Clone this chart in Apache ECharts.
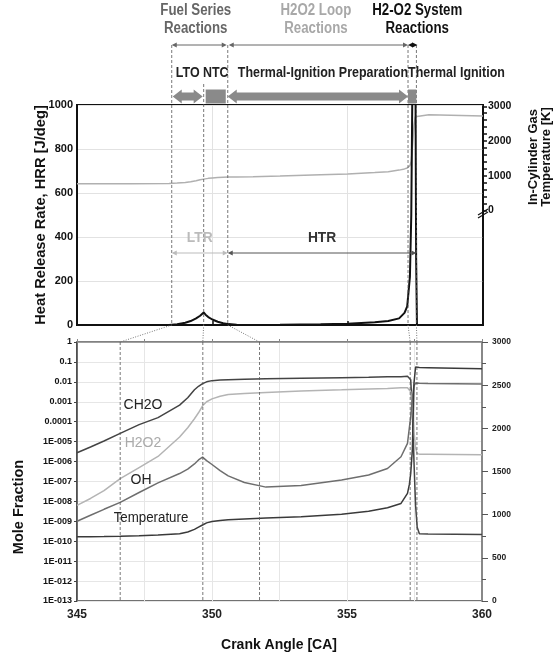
<!DOCTYPE html>
<html>
<head>
<meta charset="utf-8">
<script src="https://cdn.jsdelivr.net/npm/echarts@6/dist/echarts.min.js"></script>
<style>
  html, body { margin: 0; background: #fff; }
  #chart { width: 560px; height: 656px; }
</style>
</head>
<body>
<div id="chart"></div>
<script>
// ---- top panel: heat release rate + in-cylinder temperature ----
const topAngle = [345, 347, 348.4, 348.7, 349, 349.2, 349.4, 349.55, 349.68, 349.75, 349.85, 350, 350.2, 350.4,
  350.6, 350.9, 351.5, 352.5, 354, 355, 356, 356.5, 356.9, 357.1, 357.2, 357.3, 357.35, 357.4, 357.45, 357.5,
  357.53, 357.56, 358, 360]
const hrr = [0, 0, 0, 3, 10, 18, 30, 42, 57, 47, 36, 25, 15, 8,
  4, 1.5, 0.5, 1, 3, 6, 12, 18, 30, 55, 85, 220, 500, 1200, 1400, 1300,
  300, 0, 0, 0]
const tempTop = [768, 770, 775, 785, 805, 825, 855, 880, 900, 910, 922, 935, 945, 952,
  958, 963, 972, 990, 1025, 1050, 1090, 1115, 1160, 1195, 1220, 1290, 1420, 1900, 2450, 2700,
  2745, 2755, 2755, 2720]

// ---- bottom panel: mole fractions + temperature ----
const botAngle = [345, 345.5, 346, 346.6, 347.3, 348, 348.8, 349.1, 349.35, 349.5, 349.65, 349.8, 350, 350.3,
  350.6, 351.2, 352, 353.3, 354.8, 355.8, 356.5, 357, 357.24, 357.31, 357.36, 357.42, 357.48, 357.54,
  357.6, 357.68, 358, 360]
const ch2o = [2.75e-6, 5.4e-6, 1.07e-5, 2.6e-5, 7.1e-5, 1.6e-4, 6.8e-4, 1.6e-3, 4.0e-3, 6.0e-3, 8.1e-3, 1.0e-2, 1.15e-2, 1.23e-2,
  1.29e-2, 1.35e-2, 1.41e-2, 1.51e-2, 1.62e-2, 1.7e-2, 1.78e-2, 1.82e-2, 1.9e-2, 1.86e-2, 1.26e-2, 3.2e-4, 1e-6, 6.3e-9,
  5e-10, 2.4e-10, 2.3e-10, 2.15e-10]
const h2o2 = [6.3e-9, 1.4e-8, 3.5e-8, 1.4e-7, 5e-7, 1.8e-6, 1.7e-5, 5e-5, 1.4e-4, 2.8e-4, 6.3e-4, 1e-3, 1.4e-3, 1.9e-3,
  2.3e-3, 2.6e-3, 2.95e-3, 3.5e-3, 4.0e-3, 4.4e-3, 4.7e-3, 5.0e-3, 5.0e-3, 4.5e-3, 3.2e-3, 6.3e-4, 3.2e-5, 5e-6,
  2.5e-6, 2.35e-6, 2.35e-6, 2.2e-6]
const oh = [1e-9, 2e-9, 4e-9, 8.9e-9, 2.8e-8, 8.5e-8, 2.5e-7, 4.2e-7, 7.6e-7, 1.2e-6, 1.66e-6, 1.12e-6, 7.1e-7, 3.5e-7,
  1.9e-7, 8.9e-8, 5.2e-8, 6.3e-8, 1.17e-7, 2.1e-7, 4.5e-7, 1.74e-6, 8.1e-6, 5e-5, 1.74e-4, 1.6e-3, 6.3e-3, 8.7e-3,
  8.7e-3, 8.5e-3, 8.3e-3, 7.9e-3]
const tempBot = [744, 745, 747, 750, 756, 764, 778, 800, 830, 855, 880, 905, 920, 932,
  940, 950, 960, 975, 1005, 1040, 1080, 1130, 1246, 1350, 1477, 1750, 2520, 2710,
  2708, 2705, 2703, 2690]

const xLabels = [345, 350, 355, 360]
const tempTopLabels = [0, 1000, 2000, 3000]
// reaction phase boundaries (crank angle), top and bottom panel
const phaseTop = [348.5, 349.68, 350.57, 357.23, 357.54]
const phaseBot = [346.6, 349.66, 351.76, 357.34, 357.59]

const FONT = "'Liberation Sans', Arial, sans-serif"
const zip = (xs, ys) => xs.map((x, i) => [x, ys[i]])
// mole fractions are drawn on a decade axis (exponent of 10)
const zipLog = (xs, ys) => xs.map((x, i) => [x, Math.log10(ys[i])])
const plain = v => String(v)

const chart = echarts.init(document.getElementById('chart'), null, { renderer: 'canvas' })

function decadeLabel(e) {
  e = Math.round(e)
  if (e === 0) return '1'
  if (e >= -4) return '0.' + '0'.repeat(-e - 1) + '1'
  return '1E-' + String(-e).padStart(3, '0')
}

const tempTopTicks = []
for (let t = 0; t <= 3000; t += 200) tempTopTicks.push(t)

chart.setOption({
  animation: false,
  grid: [
    { left: 77, top: 105, width: 406, height: 220, show: true, borderColor: '#111', borderWidth: 2 },
    { left: 77, top: 342, width: 405, height: 259, show: true, borderColor: '#444', borderWidth: 1.5 }
  ],
  xAxis: [
    {
      gridIndex: 0, type: 'value', min: 345, max: 360, interval: 2.5,
      axisLine: { lineStyle: { color: '#111', width: 2 } },
      axisTick: { customValues: [350, 355], inside: true, length: 4, lineStyle: { color: '#111', width: 1.5 } },
      axisLabel: { show: false },
      splitLine: { show: true, lineStyle: { color: '#e2e2e2' } }
    },
    {
      gridIndex: 1, type: 'value', min: 345, max: 360, interval: 2.5,
      axisLine: { lineStyle: { color: '#888', width: 1.5 } },
      axisTick: { inside: true, length: 3, lineStyle: { color: '#888' } },
      axisLabel: {
        customValues: xLabels, margin: 8, formatter: plain,
        fontFamily: FONT, fontWeight: 'bold', fontSize: 12, color: '#222'
      },
      splitLine: { show: true, lineStyle: { color: '#e6e6e6' } }
    }
  ],
  yAxis: [
    {
      gridIndex: 0, type: 'value', min: 0, max: 1000, interval: 200,
      axisLine: { show: true, lineStyle: { color: '#111', width: 2 } },
      axisTick: { show: false },
      axisLabel: { margin: 4, formatter: plain, fontFamily: FONT, fontWeight: 'bold', fontSize: 11, color: '#111' },
      splitLine: { lineStyle: { color: '#e2e2e2' } }
    },
    {
      gridIndex: 0, type: 'value', position: 'right', min: -3305, max: 3037,
      axisLine: { show: true, lineStyle: { color: '#111', width: 1.5 } },
      axisTick: { show: true, customValues: tempTopTicks, length: 4, lineStyle: { color: '#111', width: 1.5 } },
      axisLabel: {
        customValues: tempTopLabels, margin: 5, formatter: plain,
        fontFamily: FONT, fontWeight: 'bold', fontSize: 10.5, color: '#111'
      },
      splitLine: { show: false }
    },
    {
      gridIndex: 1, type: 'value', min: -13, max: 0, interval: 1,
      axisLine: { show: true, lineStyle: { color: '#444', width: 1.5 } },
      axisTick: { show: true, length: 3, lineStyle: { color: '#444' } },
      axisLabel: {
        formatter: decadeLabel, margin: 5,
        fontFamily: FONT, fontWeight: 'bold', fontSize: 9, color: '#111'
      },
      splitLine: { lineStyle: { color: '#e6e6e6' } }
    },
    {
      gridIndex: 1, type: 'value', position: 'right', min: 0, max: 3000, interval: 500,
      axisLine: { show: true, lineStyle: { color: '#888', width: 2 } },
      axisTick: { show: true, length: 6, lineStyle: { color: '#555' } },
      minorTick: { show: true, splitNumber: 2, length: 4, lineStyle: { color: '#555' } },
      axisLabel: { margin: 10, formatter: plain, fontFamily: FONT, fontWeight: 'bold', fontSize: 8.5, color: '#222' },
      splitLine: { show: false }
    }
  ],
  series: [
    {
      name: 'Temperature', type: 'line', xAxisIndex: 0, yAxisIndex: 1, data: zip(topAngle, tempTop),
      showSymbol: false, lineStyle: { color: '#b0b0b0', width: 1.5 }, z: 2
    },
    {
      name: 'HRR', type: 'line', xAxisIndex: 0, yAxisIndex: 0, data: zip(topAngle, hrr),
      showSymbol: false, lineStyle: { color: '#111', width: 2 }, z: 3
    },
    {
      name: 'CH2O', type: 'line', xAxisIndex: 1, yAxisIndex: 2, data: zipLog(botAngle, ch2o),
      showSymbol: false, lineStyle: { color: '#444', width: 1.5 }
    },
    {
      name: 'H2O2', type: 'line', xAxisIndex: 1, yAxisIndex: 2, data: zipLog(botAngle, h2o2),
      showSymbol: false, lineStyle: { color: '#b4b4b4', width: 1.5 }
    },
    {
      name: 'OH', type: 'line', xAxisIndex: 1, yAxisIndex: 2, data: zipLog(botAngle, oh),
      showSymbol: false, lineStyle: { color: '#6e6e6e', width: 1.5 }
    },
    {
      name: 'Temperature', type: 'line', xAxisIndex: 1, yAxisIndex: 3, data: zip(botAngle, tempBot),
      showSymbol: false, lineStyle: { color: '#3a3a3a', width: 1.5 }
    }
  ]
})

// ---- annotations, positioned through the x axes ----
const xt = v => chart.convertToPixel({ xAxisIndex: 0 }, v)
const xb = v => chart.convertToPixel({ xAxisIndex: 1 }, v)
const T = phaseTop.map(xt)
const B = phaseBot.map(xb)
const topY1 = 325, botY0 = 342, botY1 = 601

function text(x, y, str, opt) {
  return {
    type: 'text', x, y, rotation: opt.rotation || 0, scaleX: opt.sx || 1, z: 10,
    style: {
      text: str, fill: opt.color || '#111', font: (opt.weight || 'bold') + ' ' + opt.size + 'px ' + FONT,
      textAlign: opt.align || 'center', textVerticalAlign: 'middle'
    }
  }
}
function vline(x, y1, y2, dash, color) {
  return { type: 'line', z: 9, shape: { x1: x, y1, x2: x, y2 }, style: { stroke: color || '#555', lineWidth: 0.8, lineDash: dash } }
}
function thinArrow(x1, x2, y, color) {
  const h = 5, w = 2.5
  return [
    { type: 'line', z: 10, shape: { x1: x1 + 2, y1: y, x2: x2 - 2, y2: y }, style: { stroke: color, lineWidth: 1 } },
    { type: 'polygon', z: 10, shape: { points: [[x1, y], [x1 + h, y - w], [x1 + h, y + w]] }, style: { fill: color } },
    { type: 'polygon', z: 10, shape: { points: [[x2, y], [x2 - h, y - w], [x2 - h, y + w]] }, style: { fill: color } }
  ]
}
function fatArrow(x1, x2, y, color) {
  const head = 9, half = 7, shaft = 4
  return {
    type: 'polygon', z: 10,
    shape: {
      points: [[x1, y], [x1 + head, y - half], [x1 + head, y - shaft], [x2 - head, y - shaft], [x2 - head, y - half],
        [x2, y], [x2 - head, y + half], [x2 - head, y + shaft], [x1 + head, y + shaft], [x1 + head, y + half]]
    },
    style: { fill: color }
  }
}
function rect(x1, x2, y, color) {
  return { type: 'rect', z: 10, shape: { x: x1, y: y - 7, width: x2 - x1, height: 14 }, style: { fill: color } }
}

const NARROW = 0.83
const g = []
// reaction group headers
const hFuel = (T[0] + T[2]) / 2 - 4, hLoop = (T[2] + T[3]) / 2 - 2, hSys = (T[3] + T[4]) / 2 + 5
g.push(text(hFuel, 11, 'Fuel Series', { size: 16, color: '#666', sx: NARROW }))
g.push(text(hFuel, 29, 'Reactions', { size: 16, color: '#666', sx: NARROW }))
g.push(text(hLoop, 11, 'H2O2 Loop', { size: 16, color: '#a8a8a8', sx: NARROW }))
g.push(text(hLoop, 29, 'Reactions', { size: 16, color: '#a8a8a8', sx: NARROW }))
g.push(text(hSys, 11, 'H2-O2 System', { size: 16, color: '#111', sx: NARROW }))
g.push(text(hSys, 29, 'Reactions', { size: 16, color: '#111', sx: NARROW }))
g.push(...thinArrow(T[0], T[2] - 1, 45, '#666'))
g.push(...thinArrow(T[2] + 1, T[3], 45, '#666'))
g.push(...thinArrow(T[3], T[4] + 1, 45, '#111'))
// phase labels and bars
g.push(text((T[0] + T[1]) / 2, 73, 'LTO', { size: 15, color: '#222', sx: NARROW }))
g.push(text((T[1] + T[2]) / 2, 73, 'NTC', { size: 15, color: '#222', sx: NARROW }))
g.push(text(T[3], 73, 'Thermal-Ignition Preparation', { size: 15, color: '#222', align: 'right', sx: NARROW }))
g.push(text(T[3], 73, 'Thermal Ignition', { size: 15, color: '#222', align: 'left', sx: NARROW }))
g.push(fatArrow(T[0] + 1, T[1] - 1, 96.5, '#8a8a8a'))
g.push(rect(T[1] + 2, T[2] - 2, 96.5, '#8a8a8a'))
g.push(fatArrow(T[2], T[3], 96.5, '#8a8a8a'))
g.push(rect(T[3], T[4], 96.5, '#8a8a8a'))
// dashed phase lines, top panel
T.forEach((x, i) => g.push(vline(x, i === 1 ? 84 : 45, topY1, [3, 2])))
// LTR / HTR
g.push(text((T[0] + T[2]) / 2, 238, 'LTR', { size: 15, color: '#bbb', sx: 0.92 }))
g.push(text((T[2] + T[4]) / 2, 238, 'HTR', { size: 15, color: '#333', sx: 0.92 }))
g.push(...thinArrow(T[0], T[2], 253, '#bbb'))
g.push(...thinArrow(T[2], T[4], 253, '#555'))
// dotted connectors between panels
T.forEach((x, i) => g.push({
  type: 'line', z: 9, shape: { x1: x, y1: topY1, x2: B[i], y2: botY0 },
  style: { stroke: '#777', lineWidth: 1, lineDash: [1, 1.5] }
}))
// dashed phase lines, bottom panel
B.forEach(x => g.push(vline(x, botY0, botY1, [3, 2])))
// axis break on the top right axis
g.push({ type: 'line', z: 11, shape: { x1: 478, y1: 215, x2: 488, y2: 209 }, style: { stroke: '#111', lineWidth: 1.2 } })
g.push({ type: 'line', z: 11, shape: { x1: 478, y1: 218, x2: 488, y2: 212 }, style: { stroke: '#111', lineWidth: 1.2 } })
// species labels
g.push(text(143, 405, 'CH2O', { size: 14, color: '#222', weight: 'normal' }))
g.push(text(143, 443, 'H2O2', { size: 14, color: '#aaa', weight: 'normal' }))
g.push(text(141, 480, 'OH', { size: 14, color: '#222', weight: 'normal' }))
g.push(text(151, 518, 'Temperature', { size: 14, color: '#222', weight: 'normal', sx: 0.95 }))
// axis titles
g.push(text(41, 215, 'Heat Release Rate, HRR [J/deg]', { size: 14.7, rotation: Math.PI / 2 }))
g.push(text(533, 157, 'In-Cylinder Gas', { size: 13, rotation: Math.PI / 2 }))
g.push(text(546, 157, 'Temperature [K]', { size: 13, rotation: Math.PI / 2 }))
g.push(text(19, 507, 'Mole Fraction', { size: 14.5, rotation: Math.PI / 2 }))
g.push(text(279, 645, 'Crank Angle [CA]', { size: 14 }))

chart.setOption({ graphic: { elements: g } })
</script>
</body>
</html>
